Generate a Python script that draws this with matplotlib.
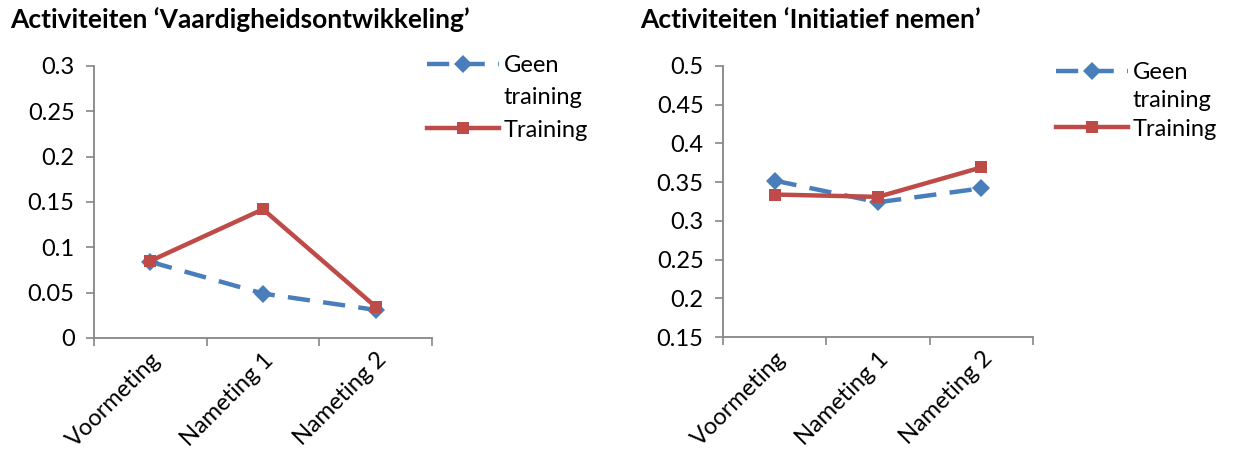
import matplotlib
matplotlib.use("Agg")
import matplotlib.pyplot as plt
from matplotlib.lines import Line2D

categories = ["Voormeting", "Nameting 1", "Nameting 2"]
series_names = ["Geen", "training", "Training"]

left_title = "Activiteiten \u2018Vaardigheidsontwikkeling\u2019"
left_geen = [0.084, 0.049, 0.031]
left_training = [0.085, 0.142, 0.0345]
left_yticks = [0, 0.05, 0.1, 0.15, 0.2, 0.25, 0.3]
left_ylabels = ["0", "0.05", "0.1", "0.15", "0.2", "0.25", "0.3"]

right_title = "Activiteiten \u2018Initiatief nemen\u2019"
right_geen = [0.352, 0.324, 0.342]
right_training = [0.334, 0.331, 0.369]
right_yticks = [0.15, 0.2, 0.25, 0.3, 0.35, 0.4, 0.45, 0.5]
right_ylabels = ["0.15", "0.2", "0.25", "0.3", "0.35", "0.4", "0.45", "0.5"]

plt.rcParams['font.family'] = ['Lato', 'DejaVu Sans']

BLUE = "#4A7EBB"
RED = "#BE4B48"
GRAY = "#868686"

W, H = 1233, 463
fig = plt.figure(figsize=(W / 100, H / 100), dpi=100)
FS = 17


def ax_rect(x0, x1, ytop, ybot):
    return [x0 / W, 1 - ybot / H, (x1 - x0) / W, (ybot - ytop) / H]


def draw(ax, geen, training, yticks, ylabels, title, title_x, leg_x, leg_y,
         lsp, hlen):
    x = list(range(len(categories)))
    l1, = ax.plot(x, geen, color=BLUE, lw=3.2, dashes=(5, 3), marker="D",
                  markersize=9, markeredgewidth=0, zorder=3)
    l2, = ax.plot(x, training, color=RED, lw=3.2, marker="s", markersize=8.5,
                  markeredgewidth=0, zorder=4)
    ax.set_xlim(-0.5, len(categories) - 0.5)
    ax.set_ylim(yticks[0], yticks[-1])
    ax.set_yticks(yticks)
    ax.set_yticklabels(ylabels, fontsize=FS)
    ax.set_xticks(x)
    ax.set_xticklabels(categories, fontsize=FS, rotation=45, ha="right",
                       rotation_mode="anchor")
    ax.set_xticks([i - 0.5 for i in range(len(categories) + 1)], minor=True)
    ax.tick_params(axis="x", which="major", length=0, pad=8)
    ax.tick_params(axis="x", which="minor", length=6, width=1.2, color=GRAY,
                   direction="out")
    ax.tick_params(axis="y", length=6, width=1.2, color=GRAY, direction="out", pad=8)
    for s in ["top", "right"]:
        ax.spines[s].set_visible(False)
    for s in ["left", "bottom"]:
        ax.spines[s].set_color(GRAY)
        ax.spines[s].set_linewidth(1.3)
    fig.text(title_x / W, 1 - 20 / H, title, fontsize=19, fontweight="bold",
             va="center", ha="left")
    blank = Line2D([], [], color="none")
    leg = ax.legend([l1, blank, l2], series_names, loc="upper left",
                    bbox_to_anchor=(leg_x / W, 1 - leg_y / H),
                    bbox_transform=fig.transFigure, frameon=False, fontsize=FS,
                    handlelength=hlen, handletextpad=0.2, labelspacing=lsp,
                    borderpad=0, borderaxespad=0)
    return leg


ax1 = fig.add_axes(ax_rect(94, 432, 66, 338))
draw(ax1, left_geen, left_training, left_yticks, left_ylabels, left_title,
     10, 427, 55, 0.48, 3.05)

ax2 = fig.add_axes(ax_rect(723, 1033, 66, 337))
draw(ax2, right_geen, right_training, right_yticks, right_ylabels, right_title,
     640, 1056, 62, 0.31, 3.05)

fig.savefig("out.png", dpi=100)
